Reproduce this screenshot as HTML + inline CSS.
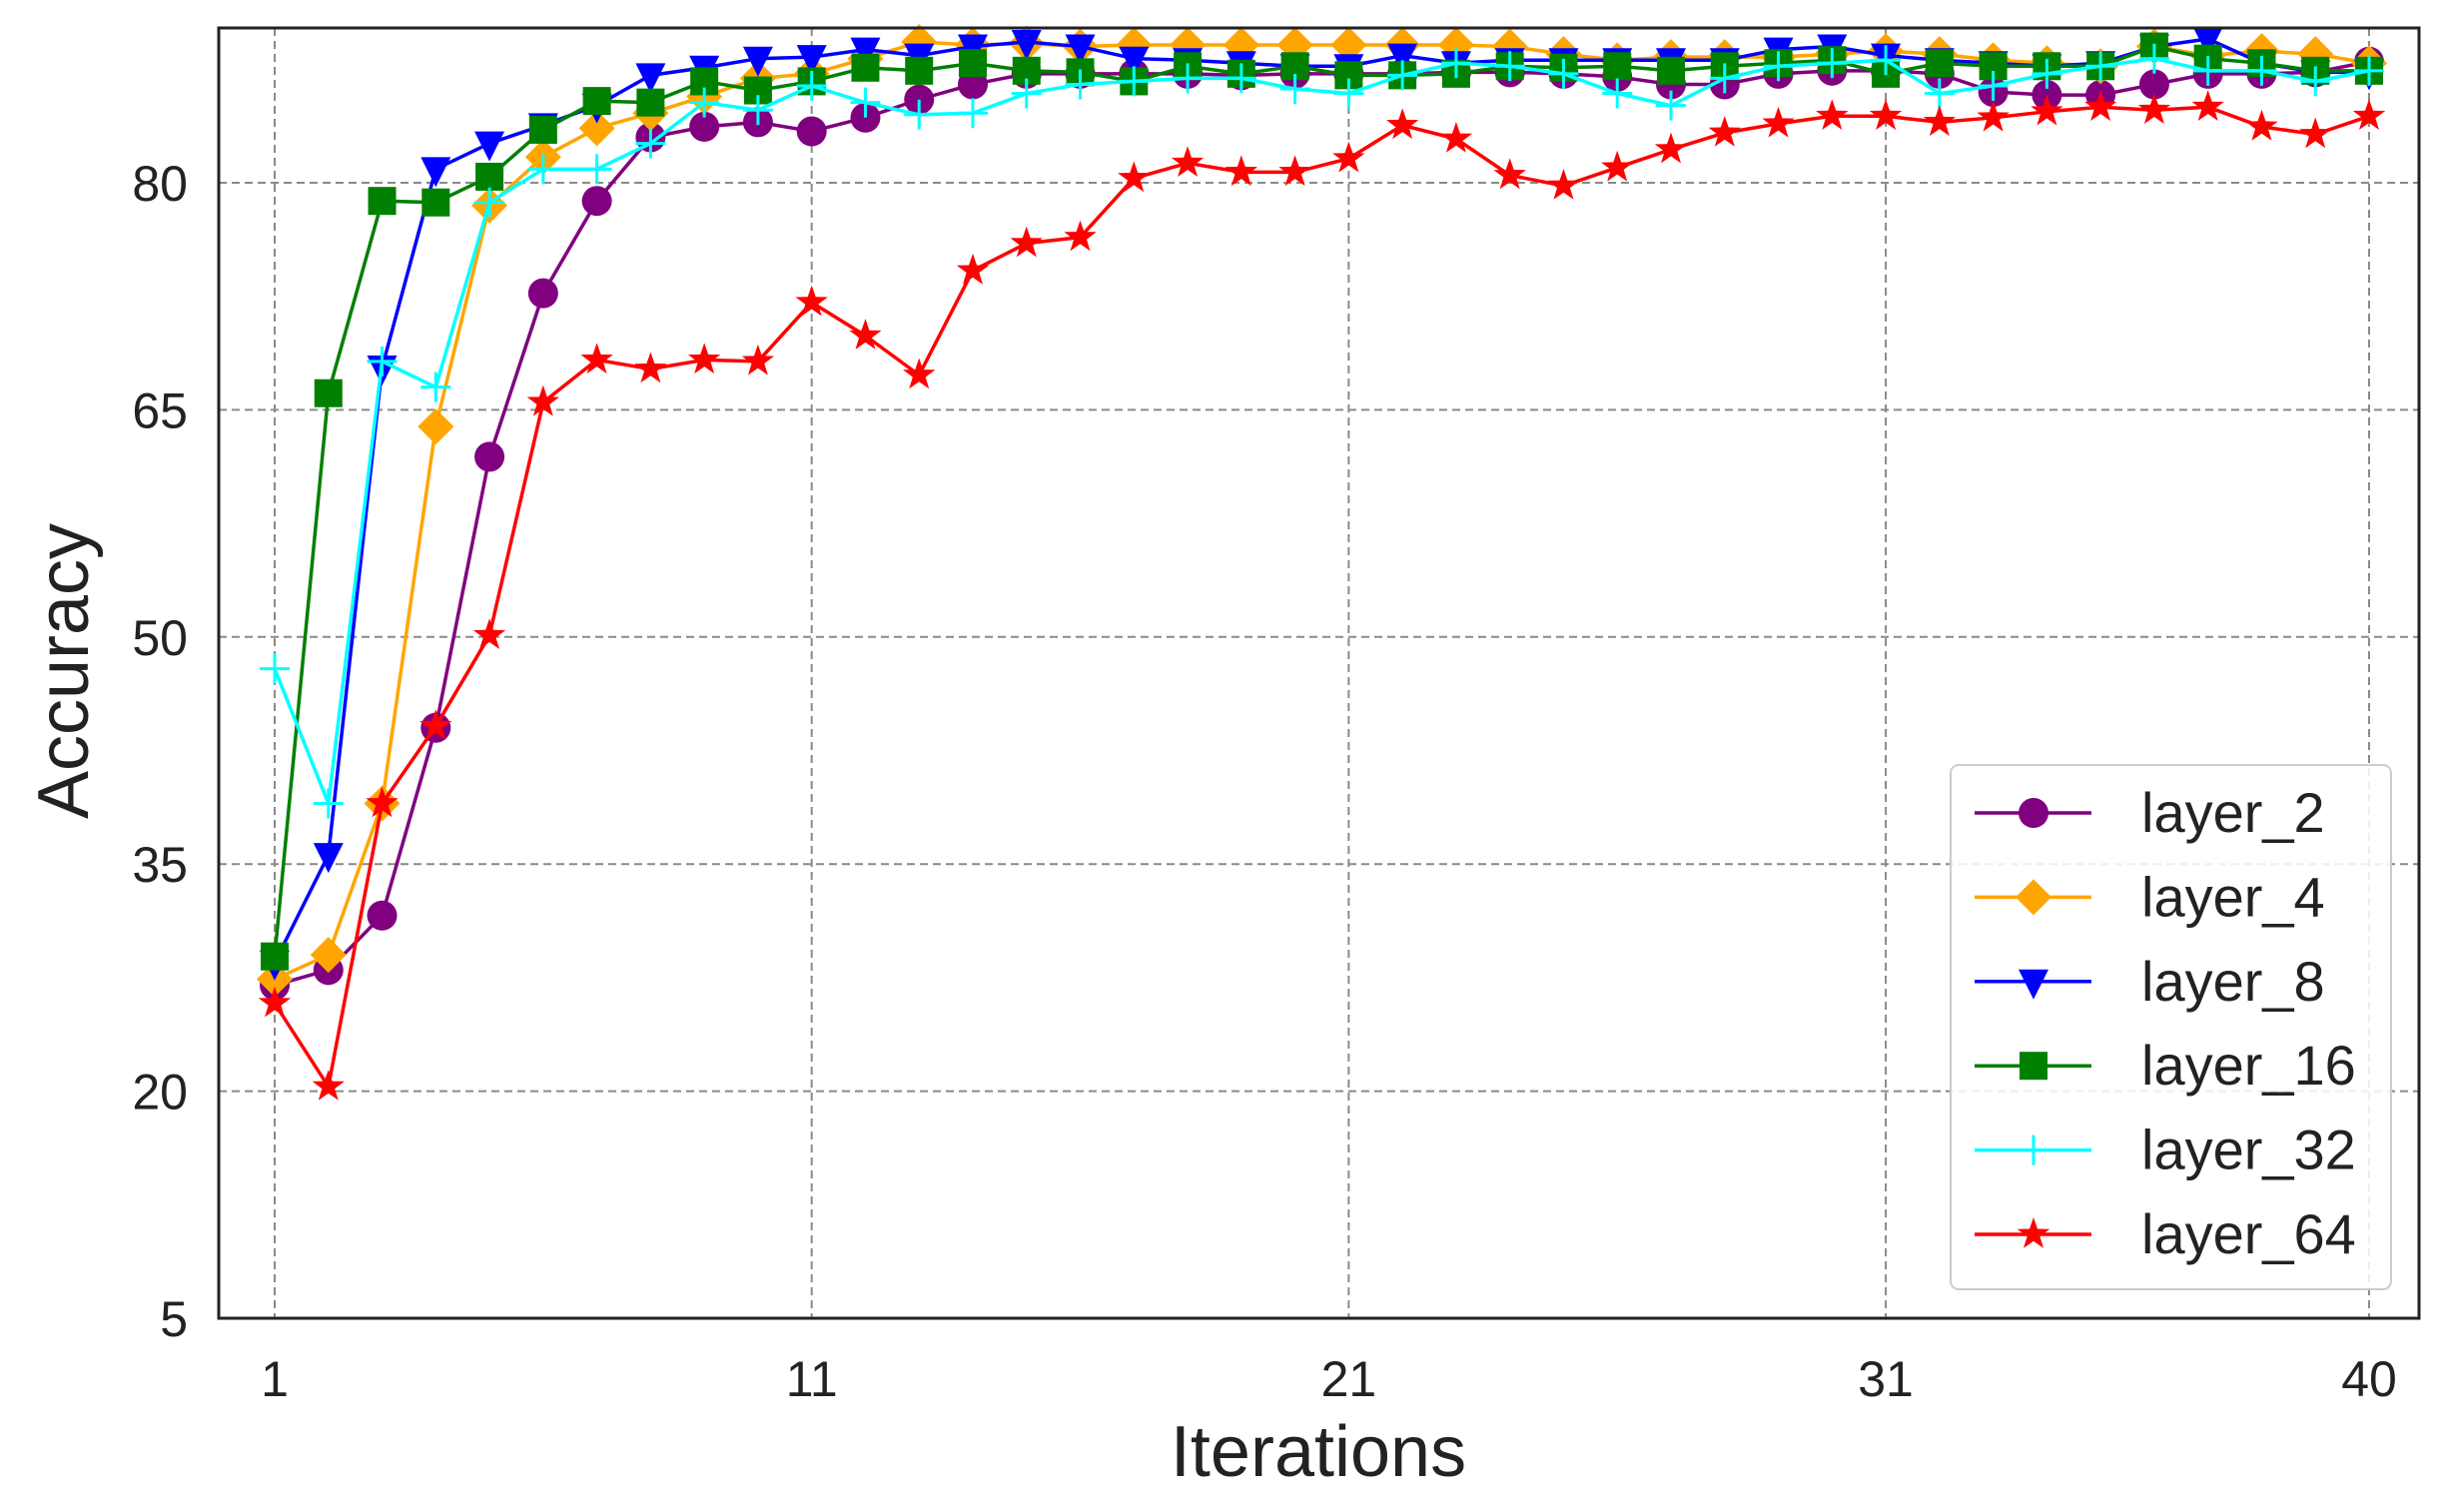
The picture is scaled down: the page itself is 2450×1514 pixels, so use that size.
<!DOCTYPE html>
<html><head><meta charset="utf-8">
<style>
html,body{margin:0;padding:0;background:#fff;}
svg{display:block;font-family:"Liberation Sans","DejaVu Sans",sans-serif;}
</style></head>
<body>
<svg id="chart" width="2450" height="1514" viewBox="0 0 2450 1514" xmlns="http://www.w3.org/2000/svg"></svg>
<script>
const iterations = Array.from({length:40},(_,i)=>i+1);
const seriesNames = ["layer_2","layer_4","layer_8","layer_16","layer_32","layer_64"];
const layer2 = [27,28,31.6,44,61.9,72.7,78.8,83,83.7,84,83.4,84.3,85.5,86.5,87.2,87.2,87.2,87.2,87.1,87.2,87.2,87.2,87.3,87.3,87.2,87.0,86.5,86.5,87.2,87.4,87.4,87.2,86.0,85.8,85.8,86.5,87.2,87.2,87.3,88.0];
const layer4 = [27.4,29,39,63.9,78.5,81.7,83.6,84.6,85.7,86.9,87.2,88.2,89.3,89.1,89.2,89.0,89.1,89.1,89.1,89.1,89.1,89.1,89.1,89.0,88.5,88.1,88.3,88.3,88.3,88.5,88.7,88.5,88.1,87.9,87.7,89.0,88.4,88.7,88.5,87.9];
const layer8 = [28.5,35.6,67.8,80.9,82.6,83.8,85.1,87.1,87.6,88.2,88.3,88.8,88.4,89.0,89.3,89.0,88.2,88.1,87.9,87.7,87.7,88.4,87.9,88.1,88.1,88.1,88.1,88.1,88.8,89.0,88.4,88.1,87.9,87.7,87.9,89.0,89.5,87.9,87.3,87.3];
const layer16 = [28.9,66.1,78.8,78.7,80.4,83.5,85.4,85.3,86.7,86.1,86.7,87.6,87.4,87.9,87.4,87.3,86.7,87.7,87.2,87.7,87.1,87.1,87.2,87.7,87.6,87.7,87.4,87.7,87.9,88.1,87.2,87.9,87.7,87.7,87.7,89.0,88.2,87.9,87.4,87.4];
const layer32 = [47.9,39,68.2,66.5,78.7,80.9,80.9,82.6,85.3,84.8,86.4,85.3,84.5,84.6,85.9,86.5,86.7,86.9,86.9,86.2,85.9,87.1,87.9,87.7,87.2,85.9,85.1,86.9,87.7,87.9,88.1,85.9,86.4,87.2,87.7,88.2,87.4,87.4,86.7,87.4];
const layer64 = [25.8,20.3,39,44.1,50.1,65.5,68.3,67.7,68.3,68.2,72.1,69.9,67.3,74.2,76,76.4,80.3,81.3,80.7,80.7,81.6,83.8,82.9,80.5,79.8,81,82.2,83.3,83.9,84.4,84.4,84,84.3,84.7,85,84.8,85,83.7,83.2,84.4];
const seriesValues = [layer2,layer4,layer8,layer16,layer32,layer64];
const xTicks = [1,11,21,31,40];
const yTicks = [5,20,35,50,65,80];

const colors=["#800080","#FFA500","#0000FF","#008000","#00FFFF","#FF0000"];
const markers=["circle","diamond","tri","square","plus","star"];
const L=219,R=2422,T=28,B=1320;
const X=v=>275+(v-1)*(2372-275)/39;
const Y=v=>1320-(v-5)*(1320-183)/75;
const NS="http://www.w3.org/2000/svg";
const svg=document.getElementById("chart");
function el(tag,attrs,parent){const e=document.createElementNS(NS,tag);for(const k in attrs)e.setAttribute(k,attrs[k]);(parent||svg).appendChild(e);return e;}

const grid=el("g",{});


xTicks.forEach(t=>{
  const l=el("line",{x1:X(t),x2:X(t),y1:T,y2:B,stroke:"#8a8a8a","stroke-width":2,"stroke-dasharray":"8,5"},grid);
  
  
  const tx=el("text",{x:X(t),y:1398,"font-size":50,"text-anchor":"middle",fill:"#222"});
  tx.textContent=t;
  
  
});
yTicks.forEach(t=>{
  const l=el("line",{x1:L,x2:R,y1:Y(t),y2:Y(t),stroke:"#8a8a8a","stroke-width":2,"stroke-dasharray":"8,5"},grid);
  
  
  const tx=el("text",{x:188,y:Y(t)+18,"font-size":50,"text-anchor":"end",fill:"#222"});
  tx.textContent=t;
  
  
});

function marker(type,cx,cy,c,parent){
  let m;const s=15;
  if(type==="circle")m=el("circle",{cx,cy,r:s,fill:c},parent);
  else if(type==="diamond")m=el("polygon",{points:`${cx},${cy-s-3} ${cx+s+3},${cy} ${cx},${cy+s+3} ${cx-s-3},${cy}`,fill:c},parent);
  else if(type==="tri")m=el("polygon",{points:`${cx-s},${cy-s+3} ${cx+s},${cy-s+3} ${cx},${cy+s+3}`,fill:c},parent);
  else if(type==="square")m=el("rect",{x:cx-s+1,y:cy-s+1,width:2*s-2,height:2*s-2,fill:c},parent);
  else if(type==="plus")m=el("path",{d:`M${cx-s} ${cy}H${cx+s}M${cx} ${cy-s}V${cy+s}`,stroke:c,"stroke-width":3,fill:"none"},parent);
  else{let p=[];for(let i=0;i<10;i++){const r=i%2?s*0.45:s+2;const a=-Math.PI/2+i*Math.PI/5;p.push((cx+r*Math.cos(a)).toFixed(1)+","+(cy+r*Math.sin(a)).toFixed(1));}
    m=el("polygon",{points:p.join(" "),fill:c},parent);}
  return m;
}

seriesValues.forEach((vals,si)=>{
  const g=el("g",{});
  
  
  const d=vals.map((v,i)=>(i?"L":"M")+X(iterations[i])+" "+Y(v)).join("");
  const p=el("path",{d,stroke:colors[si],"stroke-width":3.5,fill:"none"},g);
  
  
  vals.forEach((v,i)=>{
    const m=marker(markers[si],X(iterations[i]),Y(v),colors[si],g);
    
    
  });
});

const frame=el("rect",{x:L,y:T,width:R-L,height:B-T,fill:"none",stroke:"#222","stroke-width":3});



const xt=el("text",{x:1320,y:1478,"font-size":72,"text-anchor":"middle",fill:"#222"});
xt.textContent="Iterations";


const yt=el("text",{x:0,y:0,"font-size":72,"text-anchor":"middle",fill:"#222",transform:"translate(88,672) rotate(-90)"});
yt.textContent="Accuracy";



const lg=el("g",{});


const lb=el("rect",{x:1953,y:766,width:441,height:525,rx:8,fill:"#fff","fill-opacity":0.85,stroke:"#ccc","stroke-width":2},lg);


seriesNames.forEach((n,i)=>{
  const y=814+i*84.4;
  const e=el("g",{},lg);
  
  
  el("line",{x1:1977,x2:2094,y1:y,y2:y,stroke:colors[i],"stroke-width":3.5},e);
  marker(markers[i],2036,y,colors[i],e);
  const t=el("text",{x:2144,y:y+19,"font-size":56,fill:"#222"},e);
  t.textContent=n;
});
</script>
</body></html>
